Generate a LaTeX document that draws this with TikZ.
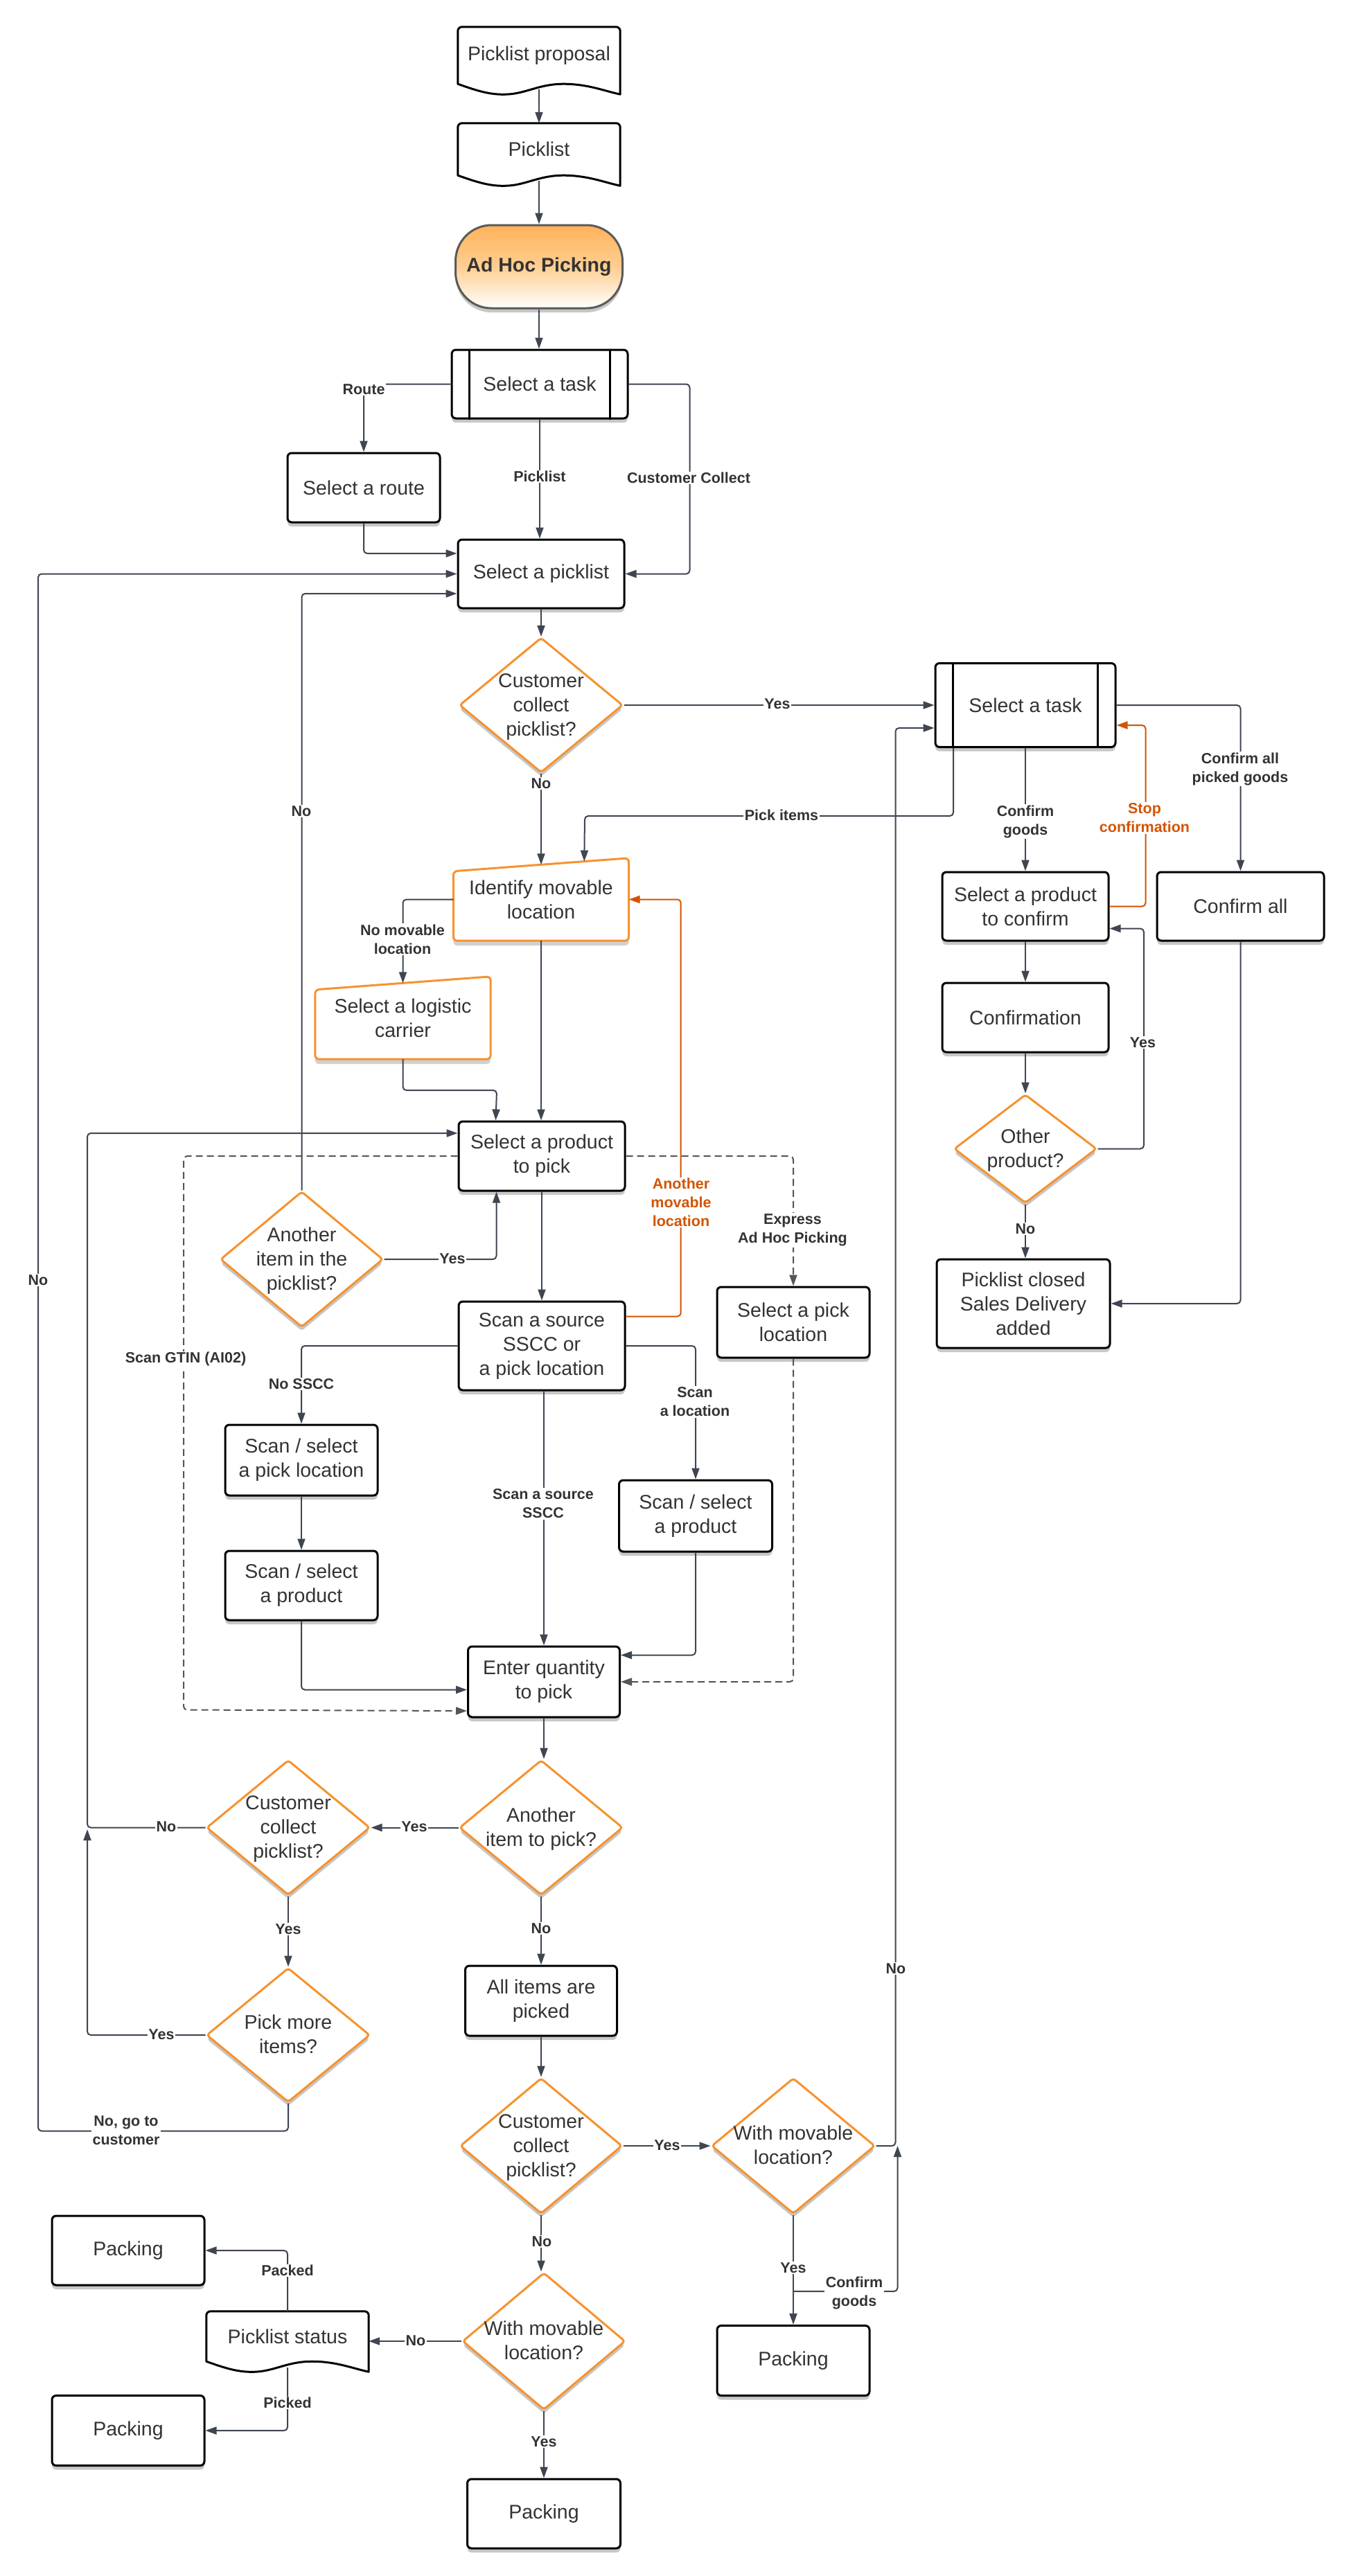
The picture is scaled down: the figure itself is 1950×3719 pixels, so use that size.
\documentclass[tikz,border=0pt]{standalone}
\usepackage{fontspec}
\setmainfont{Liberation Sans}
\usetikzlibrary{arrows.meta,shapes.geometric,shadows,calc,backgrounds}
\definecolor{txt}{HTML}{333333}
\definecolor{lc}{HTML}{3F4551}
\definecolor{orb}{HTML}{F7922F}
\definecolor{ored}{HTML}{D35400}
\definecolor{adtop}{RGB}{255,178,90}
\definecolor{admid}{RGB}{254,206,145}
\definecolor{dgray}{HTML}{555555}
\definecolor{tgray}{HTML}{5A5A5A}
\newcommand\dtx[1]{\makebox[0pt]{\raisebox{-0.3em}[0pt][0pt]{\begin{tabular}{@{}c@{}}#1\end{tabular}}}}
\newcommand\docdraw[1]{%
\draw[line width=3pt, line join=round] (#1.south west)
 .. controls ($(#1.south west)!0.12!(#1.south east)+(0,10)$) and ($(#1.south west)!0.2!(#1.south east)+(0,16)$) .. ($(#1.south west)!0.3!(#1.south east)+(0,15)$)
 .. controls ($(#1.south west)!0.42!(#1.south east)+(0,14)$) and ($(#1.south west)!0.5!(#1.south east)$) .. ($(#1.south west)!0.65!(#1.south east)$)
 .. controls ($(#1.south west)!0.8!(#1.south east)$) and ($(#1.south west)!0.9!(#1.south east)+(0,10)$) .. ($(#1.south east)+(0,15)$)
 -- ($(#1.north east)+(0,6)$) arc[start angle=0,end angle=90,radius=6pt]
 -- ($(#1.north west)+(6,0)$) arc[start angle=90,end angle=180,radius=6pt] -- cycle;}
\newcommand\maninput[1]{%
\begin{pgfonlayer}{background}
\fill[black,opacity=0.18,rounded corners=6pt] ($(#1.south west)+(0,7)$) -- ($(#1.north west)+(0,26)$) -- ($(#1.north east)+(0,7)$) -- ($(#1.south east)+(0,7)$) -- cycle;
\draw[line width=3pt, draw=orb, fill=white, rounded corners=6pt] (#1.south west) -- ($(#1.north west)+(0,19)$) -- (#1.north east) -- (#1.south east) -- cycle;
\end{pgfonlayer}}
\tikzset{
 shd/.style={drop shadow={shadow xshift=0pt,shadow yshift=-6pt,opacity=0.22,fill=black}},
 nfont/.style={font=\fontsize{28.5}{35}\selectfont, text=txt},
 proc/.style={rectangle, draw=black, line width=3pt, fill=white, rounded corners=6pt, inner sep=0pt, align=center, nfont, shd},
 docn/.style={rectangle, inner sep=0pt, align=center, nfont},
 mi/.style={rectangle, inner sep=0pt, align=center, nfont},
 dia/.style={diamond, draw=orb, line width=3pt, fill=white, inner sep=0pt, rounded corners=4pt, nfont, shd},
 term/.style={rectangle, rounded corners=52pt, draw=tgray, line width=3pt, top color=adtop, bottom color=white, middle color=admid, inner sep=0pt, font=\bfseries\fontsize{28.5}{35}\selectfont, text=txt, shd},
 arr/.style={draw=lc, line width=2pt, rounded corners=5pt, -{Triangle[length=16pt,width=11pt]}},
 oarr/.style={arr, draw=ored},
 darr/.style={arr, draw=dgray, dash pattern=on 10pt off 6pt},
 lbl/.style={font=\bfseries\fontsize{21.5}{27}\selectfont, text=txt, fill=white, inner sep=1.5pt, align=center},
 olbl/.style={lbl, text=ored},
 sub/.style={line width=3pt, draw=black}
}
\begin{document}
\begin{tikzpicture}[x=1pt,y=-1pt]
\useasboundingbox (0,0) rectangle (1950,3719);
\begin{pgfonlayer}{background}
\fill[white] (0,0) rectangle (1950,3719);
\end{pgfonlayer}
% ---------- nodes ----------
\node[docn, minimum width=234pt, minimum height=82pt] (pp) at (778,80) {Picklist proposal};
\docdraw{pp}
\node[docn, minimum width=234pt, minimum height=75pt] (pl) at (778,215.5) {Picklist};
\docdraw{pl}
\node[term, minimum width=241pt, minimum height=120pt] (adhoc) at (778,385) {Ad Hoc Picking};
\node[proc, minimum width=254pt, minimum height=99pt] (task1) at (779,554.5) {Select a task};
\draw[sub] ($(task1.north west)+(27,0)$) -- ($(task1.south west)+(27,0)$);
\draw[sub] ($(task1.north east)+(-27,0)$) -- ($(task1.south east)+(-27,0)$);
\node[proc, minimum width=220pt, minimum height=100pt] (route) at (525,704) {Select a route};
\node[proc, minimum width=240pt, minimum height=99pt] (pick) at (781,828.5) {Select a picklist};
\node[dia, minimum width=236pt, minimum height=195pt] (cc1) at (781,1018) {\dtx{Customer\\collect\\picklist?}};
\node[proc, minimum width=260pt, minimum height=121pt] (task2) at (1480,1018) {Select a task};
\draw[sub] ($(task2.north west)+(27,0)$) -- ($(task2.south west)+(27,0)$);
\draw[sub] ($(task2.north east)+(-27,0)$) -- ($(task2.south east)+(-27,0)$);
\node[mi, minimum width=253pt, minimum height=119pt] (ident) at (781,1298.5) {Identify movable\\location};
\maninput{ident}
\node[mi, minimum width=253pt, minimum height=119pt] (carrier) at (581.5,1469.5) {Select a logistic\\carrier};
\maninput{carrier}
\node[proc, minimum width=240pt, minimum height=100pt] (prod) at (782,1669) {Select a product\\to pick};
\node[dia, minimum width=235pt, minimum height=196pt] (aitp) at (435.5,1818) {\dtx{Another\\item in the\\picklist?}};
\node[proc, minimum width=240pt, minimum height=128pt] (scan) at (782,1943) {Scan a source\\SSCC or\\a pick location};
\node[proc, minimum width=220pt, minimum height=102pt] (spl) at (1145,1909) {Select a pick\\location};
\node[proc, minimum width=220pt, minimum height=102pt] (ssl) at (435,2108) {Scan / select\\a pick location};
\node[proc, minimum width=220pt, minimum height=100pt] (ssp1) at (435,2289) {Scan / select\\a product};
\node[proc, minimum width=221pt, minimum height=103pt] (ssp2) at (1004,2188.5) {Scan / select\\a product};
\node[proc, minimum width=219pt, minimum height=102pt] (qty) at (785,2428) {Enter quantity\\to pick};
\node[dia, minimum width=236pt, minimum height=195pt] (ait) at (781,2638.5) {\dtx{Another\\item to pick?}};
\node[dia, minimum width=236pt, minimum height=195pt] (cc2) at (416,2638.5) {\dtx{Customer\\collect\\picklist?}};
\node[dia, minimum width=236pt, minimum height=194pt] (pmi) at (416,2938) {\dtx{Pick more\\items?}};
\node[proc, minimum width=219pt, minimum height=101pt] (aip) at (781,2888.5) {All items are\\picked};
\node[dia, minimum width=234pt, minimum height=196pt] (cc3) at (781,3098) {\dtx{Customer\\collect\\picklist?}};
\node[dia, minimum width=236pt, minimum height=196pt] (wml1) at (1145,3098) {\dtx{With movable\\location?}};
\node[proc, minimum width=220pt, minimum height=101pt] (pack1) at (1145,3408) {Packing};
\node[dia, minimum width=235pt, minimum height=198pt] (wml2) at (785,3380) {\dtx{With movable\\location?}};
\node[proc, minimum width=221pt, minimum height=100pt] (pack2) at (785,3629) {Packing};
\node[docn, minimum width=234pt, minimum height=72pt] (pstat) at (415,3373) {Picklist status};
\docdraw{pstat}
\node[proc, minimum width=220pt, minimum height=100pt] (packTL) at (185,3249) {Packing};
\node[proc, minimum width=220pt, minimum height=101pt] (packBL) at (185,3509) {Packing};
\node[proc, minimum width=240pt, minimum height=99pt] (spc) at (1480,1308.5) {Select a product\\to confirm};
\node[proc, minimum width=241pt, minimum height=99pt] (call) at (1790.5,1308.5) {Confirm all};
\node[proc, minimum width=240pt, minimum height=100pt] (conf) at (1480,1469) {Confirmation};
\node[dia, minimum width=206pt, minimum height=157pt] (op) at (1480,1658.5) {\dtx{Other\\product?}};
\node[proc, minimum width=250pt, minimum height=128pt] (plc) at (1477,1882) {Picklist closed\\Sales Delivery\\added};
% ---------- connectors ----------
\draw[arr] ($(pp.south)+(0,8)$) -- (pl.north);
\draw[arr] ($(pl.south)+(0,8)$) -- (adhoc.north);
\draw[arr] (adhoc.south) -- (adhoc.south |- task1.north);
\draw[arr] (task1.west) -| (route.north);
\draw[arr] (task1.south) -- (task1.south |- pick.north);
\draw[arr] (task1.east) -| ($(pick.east)+(93,0)$) -- (pick.east);
\draw[arr] (route.south) |- ($(pick.west)+(0,-29.5)$);
\draw[arr] (pick.south) -- (cc1.north);
\draw[arr] (cc1.east) -- (task2.west);
\draw[arr] (cc1.south) -- ($(ident.north)+(0,9.5)$);
\draw[arr] ($(task2.south west)+(27.5,0)$) |- (844,1178) -- ($(ident.north west)+(189,4.8)$);
\draw[arr] (task2.south) -- (spc.north);
\draw[arr] (task2.east) -| (call.north);
\draw[oarr] (spc.east) -- ++(52,0) |- ($(task2.north east)+(0,91)$);
\draw[arr] (spc.south) -- (conf.north);
\draw[arr] (conf.south) -- (op.north);
\draw[arr] (op.east) -- ++(66.5,0) |- ($(spc.south east)+(0,-19)$);
\draw[arr] (op.south) -- (op.south |- plc.north);
\draw[arr] (call.south) |- (plc.east);
\draw[arr] (ident.west) -| ($(carrier.north)+(0,9.5)$);
\draw[arr] (ident.south) -- (ident.south |- prod.north);
\draw[arr] (carrier.south) |- (717,1574) -- ($(prod.north west)+(55,0)$);
\draw[arr] (aitp.east) -| ($(prod.south west)+(56,0)$);
\draw[arr] (aitp.north) |- ($(pick.west)+(0,28.5)$);
\draw[arr] (prod.south) -- (scan.north);
\draw[oarr] ($(scan.north east)+(0,23)$) -| ($(ident.east)+(75,0)$) -- (ident.east);
\draw[darr] (prod.west) -| (265,2468.5) -- ($(qty.south west)+(0,-10.5)$);
\draw[darr] (prod.east) -| (spl.north);
\draw[darr] (spl.south) |- (qty.east);
\draw[arr] (scan.west) -| (ssl.north);
\draw[arr] (scan.east) -| (ssp2.north);
\draw[arr] (scan.south -| qty.north) -- (qty.north);
\draw[arr] (ssl.south) -- (ssp1.north);
\draw[arr] (ssp1.south) |- ($(qty.south west)+(0,-41)$);
\draw[arr] (ssp2.south) |- ($(qty.north east)+(0,14)$);
\draw[arr] (qty.south) -- (qty.south |- ait.north);
\draw[arr] (ait.west) -- (cc2.east);
\draw[arr] (cc2.west) -| (126,1636) -- ($(prod.west)+(0,-33)$);
\draw[arr] (cc2.south) -- (pmi.north);
\draw[arr] (pmi.west) -| (126,2641);
\draw[arr] (pmi.south) |- (55,3076.5) |- (pick.west);
\draw[arr] (ait.south) -- (aip.north);
\draw[arr] (aip.south) -- (cc3.north);
\draw[arr] (cc3.east) -- (wml1.west);
\draw[arr] (cc3.south) -- (cc3.south |- wml2.north);
\draw[arr] (wml1.east) -| ($(task2.south west)+(-56,-29)$) -- ($(task2.south west)+(0,-29)$);
\draw[arr] (wml1.south) -- (pack1.north);
\coordinate (cg) at ($(pack1.north)+(0,-48)$);
\draw[arr] (cg) -| ($(wml1.east)+(31,0)$);
\draw[arr] (wml2.west) -- (wml2.west -| pstat.east);
\draw[arr] (pstat.north) |- (packTL.east);
\draw[arr] ($(pstat.south)+(0,9)$) |- (packBL.east);
\draw[arr] (wml2.south) -- (pack2.north);
% ---------- labels ----------
\node[lbl] (l1) at (525,562) {Route};
\node[lbl] (l2) at (779,688) {Picklist};
\node[lbl] (l3) at (994,690) {Customer Collect};
\node[lbl] (l4) at (781,1131) {No};
\node[lbl] (l5) at (1122,1016) {Yes};
\node[lbl] (l6) at (435,1171) {No};
\node[lbl] (l7) at (55,1848) {No};
\node[lbl] (l8) at (1128,1177) {Pick items};
\node[lbl] (l9) at (1480,1186) {Confirm\\goods};
\node[olbl] (l10) at (1652,1181) {Stop\\confirmation};
\node[lbl] (l11) at (1790,1110) {Confirm all\\picked goods};
\node[lbl] (l12) at (1649.5,1505) {Yes};
\node[lbl] (l13) at (1480,1774) {No};
\node[lbl] (l14) at (581,1356) {No movable\\location};
\node[lbl] (l15) at (653,1817) {Yes};
\node[olbl] (l16) at (983,1736) {Another\\movable\\location};
\node[lbl] (l17) at (1144,1776) {Express\\Ad Hoc Picking};
\node[lbl] (l18) at (268,1962) {Scan GTIN (AI02)};
\node[lbl] (l19) at (435,1998) {No SSCC};
\node[lbl] (l20) at (1003,2024) {Scan\\a location};
\node[lbl] (l21) at (784,2171) {Scan a source\\SSCC};
\node[lbl] (l22) at (598,2637) {Yes};
\node[lbl] (l23) at (240,2637) {No};
\node[lbl] (l24) at (416,2785) {Yes};
\node[lbl] (l25) at (233,2937) {Yes};
\node[lbl] (l26) at (182,3076) {No, go to\\customer};
\node[lbl] (l27) at (781,2784) {No};
\node[lbl] (l28) at (963,3097) {Yes};
\node[lbl] (l29) at (782,3236) {No};
\node[lbl] (l30) at (1293,2842) {No};
\node[lbl] (l31) at (1145,3274) {Yes};
\node[lbl] (l32) at (1233,3310) {Confirm\\goods};
\node[lbl] (l33) at (600,3379) {No};
\node[lbl] (l34) at (415,3278) {Packed};
\node[lbl] (l35) at (415,3469) {Picked};
\node[lbl] (l36) at (785,3525) {Yes};
\end{tikzpicture}
\end{document}
